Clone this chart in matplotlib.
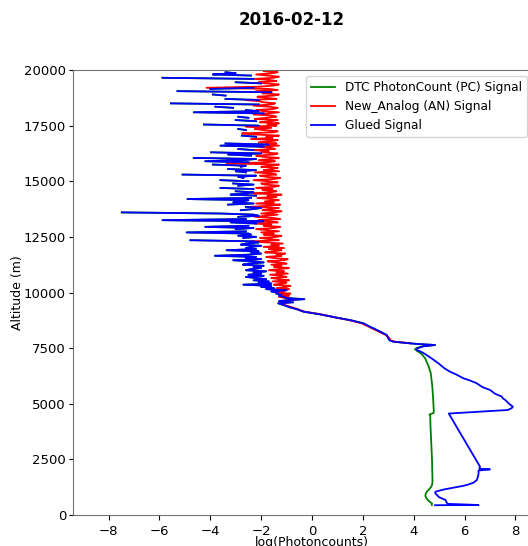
"""
lidar profile 2016-02-12
"""
import matplotlib
matplotlib.use('Agg')
import matplotlib.pyplot as plt
import numpy as np

nan = np.nan

# lower part: glued signal (analog based) and photon count signal
alt_gl_low = [440, 450, 500, 550, 675, 800, 900, 1000, 1050, 1150, 1200, 1300, 1350, 1450,
              1570, 1700, 1850, 2000, 2050, 2080, 2170, 3000, 3800, 4560, 4720, 4800, 4870,
              5000, 5170, 5250, 5320, 5450, 5620, 5750, 5920, 6050, 6140, 6300, 6440, 6600,
              6820, 7000, 7235, 7330, 7415, 7500, 7580, 7640, 7690]
gl_low = [4.84, 6.55, 5.35, 5.3, 5.25, 5.0, 4.91, 4.84, 4.86, 5.2, 5.43, 5.9, 6.09, 6.35,
          6.48, 6.52, 6.55, 6.55, 7.0, 6.58, 6.61, 6.18, 5.77, 5.38, 7.7, 7.85, 7.9,
          7.75, 7.6, 7.5, 7.47, 7.2, 7.0, 6.7, 6.48, 6.2, 5.96, 5.7, 5.43, 5.2,
          4.97, 4.75, 4.45, 4.3, 4.12, 4.15, 4.4, 4.84, 4.1]

alt_pc_low = [450, 520, 600, 680, 760, 850, 950, 1050, 1150, 1250, 1350, 1500, 2000, 2500,
              3000, 3500, 4000, 4450, 4520, 4580, 4700, 5300, 5800, 6380, 6700, 7040, 7250,
              7400, 7450, 7500, 7590, 7640, 7690]
pc_low = [4.71, 4.72, 4.62, 4.55, 4.5, 4.46, 4.47, 4.52, 4.6, 4.68, 4.72, 4.74, 4.73, 4.72,
          4.7, 4.68, 4.66, 4.65, 4.62, 4.78, 4.79, 4.76, 4.73, 4.67, 4.58, 4.45, 4.3,
          4.1, 4.05, 4.1, 4.37, 4.84, 4.1]

# transition zone, analog and photon count nearly the same
alt_tr = [7715, 7790, 7850, 7940, 8090, 8200, 8315, 8450, 8615, 8760, 8870, 9020, 9140,
          9250, 9335, 9430, 9515, 9560, 9610, 9650]
blue_tr = [3.86, 3.2, 3.05, 3.0, 2.94, 2.75, 2.55, 2.3, 2.02, 1.5, 0.97, 0.31, -0.34,
           -0.6, -0.87, -1.1, -1.33, -0.74, -1.3, -1.0]
red_tr = [3.9, 3.25, 3.1, 3.05, 2.9, 2.7, 2.5, 2.25, 1.95, 1.45, 0.95, 0.35, -0.3,
          -0.55, -0.8, -1.05, -1.25, -0.9, -1.2, -0.95]

# upper part, 50 m bins from 9700 m to 20000 m
alt_hi = list(range(9700, 20001, 50))
red_hi = [
    -0.6, -1.0, -1.3, -0.9, -1.2, -0.85, -1.45, -1.1, -1.2, -0.9,
    -1.4, -1.0, -0.85, -1.5, -1.2, -1.0, -1.55, -0.9, -1.3, -1.6,
    -1.0, -1.2, -1.65, -0.95, -1.4, -1.1, -1.7, -1.3, -0.9, -1.5,
    -1.2, -1.6, -1.0, -1.35, -1.75, -1.1, -0.95, -1.5, -1.8, -1.2,
    -1.4, -1.05, -1.85, -1.5, -1.2, -1.7, -1.1, -1.9, -1.3, -1.6,
    -1.15, -1.8, -2.4, -1.3, -1.6, -2.05, -1.4, -1.2, -1.9, -1.5,
    -2.0, -1.3, -1.75, -2.2, -1.5, -1.25, -1.9, -1.6, -2.25, -1.35,
    -1.7, -2.1, -1.25, -1.5, -2.25, -1.8, -1.35, -2.0, -1.5, -1.2,
    -1.95, -1.6, -1.3, -2.44, -1.7, -1.25, -2.2, -1.5, -1.85, -1.3,
    -1.6, -2.15, -1.4, -1.75, -1.2, -2.3, -1.65, -1.4, -1.95, -1.55,
    -2.2, -1.5, -1.3, -1.85, -2.0, -1.35, -1.7, -2.3, -1.5, -1.25,
    -1.8, -2.05, -1.4, -1.6, -2.25, -1.3, -1.9, -1.55, -1.35, -2.0,
    -1.6, -1.3, -3.36, -1.75, -1.45, -2.1, -1.6, -1.3, -1.95, -2.2,
    -1.5, -1.35, -2.0, -1.7, -2.3, -1.45, -1.6, -2.05, -1.3, -1.8,
    -1.4, -2.1, -1.6, -1.35, -2.4, -1.55, -1.8, -1.3, -2.2, -2.75,
    -1.5, -1.35, -1.9, -2.25, -1.6, -2.6, -1.4, -1.75, -1.3, -2.05,
    -1.6, -1.35, -2.25, -1.8, -1.4, -1.55, -2.3, -1.7, -1.3, -1.9,
    -2.2, -1.5, -1.35, -1.7, -2.3, -1.6, -1.45, -1.9, -2.1, -2.6,
    -1.4, -1.8, -2.15, -1.5, -1.3, -1.95, -1.6, -2.2, -1.35, -1.7,
    -4.15, -2.1, -1.5, -1.3, -1.85, -2.1, -1.4, -1.65, -2.25, -1.5,
    -1.3, -1.75, -2.2, -1.6, -1.35, -1.9, -1.6]
# photon counts up high, nan where log of the counts is not defined
blue_hi = [
    -0.3, -1.0, -1.1, -1.3, -1.2, -1.4, -1.35, -1.6, -1.0, -1.8,
    -1.5, -2.0, -1.6, -2.7, -1.6, -2.1, -1.7, -2.3, -1.8, -2.2,
    -2.6, -1.9, -2.5, -2.0, -2.3, -1.8, -2.6, -2.4, -2.0, -2.3,
    -1.9, -2.72, -2.5, -1.9, -2.3, -3.1, -2.0, -2.6, -2.2, -3.82,
    -2.5, -2.0, -2.4, -2.1, -3.36, -2.2, -2.6, -2.4, -2.0, -2.8,
    -2.6, -2.1, -2.3, -4.78, nan, -2.7, -2.2, -2.9, -2.4, -2.5,
    -4.93, -2.6, nan, -3.0, -2.3, -4.2, -2.5, nan, -2.2, -3.2,
    -1.9, -5.88, -2.6, nan, -2.9, -2.1, -2.3, -3.6, -7.48, nan,
    -2.8, -2.3, -2.0, -2.6, nan, -3.3, -2.3, -3.1, -2.7, -2.5,
    -4.9, -2.4, nan, -2.2, -3.2, -2.6, -2.3, -3.0, nan, -2.3,
    -3.6, nan, -2.9, -2.3, -3.1, nan, -2.5, -3.6, nan, -2.7,
    -2.9, -2.2, -5.09, nan, -2.6, -3.0, -2.2, -3.3, nan, -2.8,
    -2.6, -3.9, nan, -2.5, -4.2, -2.7, -2.2, -4.65, nan, -2.4,
    -3.3, -2.0, -3.97, nan, -2.3, -2.9, nan, -1.9, -3.6, -1.7,
    -3.4, nan, nan, nan, nan, nan, -2.2, -2.76, nan, nan,
    nan, nan, -2.6, -2.9, nan, nan, -2.1, -4.25, nan, nan,
    -2.2, -3.0, nan, -2.5, -2.9, nan, nan, -1.9, -4.65, -2.1,
    -2.6, nan, -3.1, -3.8, nan, -2.1, -5.55, nan, nan, -2.1,
    -3.4, nan, nan, -3.4, -3.9, nan, -1.6, -5.29, nan, -4.0,
    -2.3, nan, nan, nan, -2.0, -3.0, nan, nan, -2.3, -5.88,
    nan, -2.4, -3.9, -3.0, -3.4, nan, nan]

x_ticks = [-8, -6, -4, -2, 0, 2, 4, 6, 8]
y_ticks = [0, 2500, 5000, 7500, 10000, 12500, 15000, 17500, 20000]


def display_profile():
    alt_pc = np.array(alt_pc_low + alt_tr + alt_hi)
    pc = np.array(pc_low + blue_tr + blue_hi)
    alt_an = np.array(alt_tr + alt_hi)
    an = np.array(red_tr + red_hi)
    alt_gl = np.array(alt_gl_low + alt_tr + alt_hi)
    gl = np.array(gl_low + blue_tr + blue_hi)

    fig = plt.figure(figsize=(5.28, 5.46), dpi=100)
    ax = fig.add_axes([73 / 528, 31 / 546, 478 / 528, 445 / 546])

    ax.plot(pc, alt_pc, color='green', lw=1.3, label='DTC PhotonCount (PC) Signal')
    ax.plot(an, alt_an, color='red', lw=1.3, label='New_Analog (AN) Signal')
    ax.plot(gl, alt_gl, color='blue', lw=1.3, label='Glued Signal')

    ax.set_xlim(-9.4, 9.4)
    ax.set_ylim(0, 20000)
    ax.set_xticks(x_ticks)
    ax.set_yticks(y_ticks)
    ax.tick_params(labelsize=9.5)
    ax.tick_params(axis='y', length=3, pad=2)
    for s in ax.spines.values():
        s.set_color('0.45')
    ax.set_xlabel('log(Photoncounts)', fontsize=9, labelpad=-1)
    ax.set_ylabel('Altitude (m)', fontsize=9, labelpad=0)

    fig.text(292 / 528, 1 - 20 / 546, '2016-02-12', ha='center', va='center',
             fontsize=12, fontweight='bold')
    ax.legend(loc='upper right', bbox_to_anchor=(527 / 528, 1 - 76 / 546),
              bbox_transform=fig.transFigure, borderaxespad=0, fontsize=8.75)

    plt.savefig('out.png', dpi=100)


if __name__ == "__main__":
    display_profile()
